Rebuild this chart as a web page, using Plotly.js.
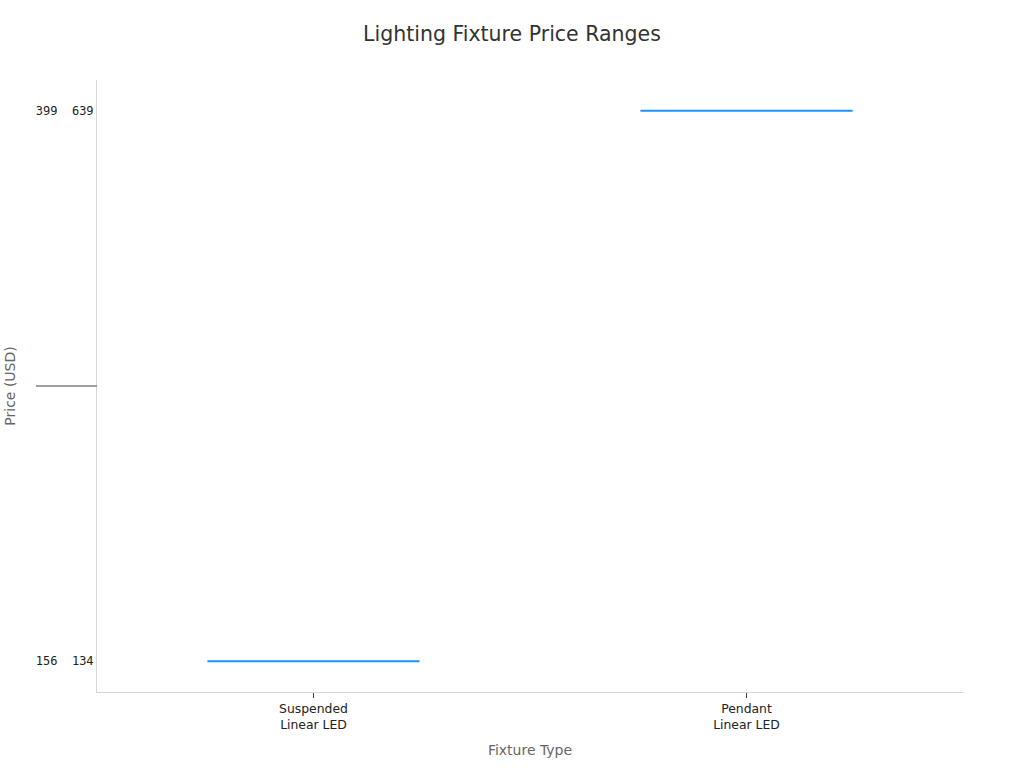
<!DOCTYPE html>
<html>
<head>
<meta charset="utf-8">
<script src="https://cdn.plot.ly/plotly-3.0.1.min.js"></script>
<style>html,body{margin:0;padding:0;background:#fff;}#chart{width:1024px;height:768px;}</style>
</head>
<body>
<div id="chart"></div>
<script>
var categories = ["Suspended<br>Linear LED", "Pendant<br>Linear LED"];
var priceLabels = ["156  134", "399  639"];
var yCategoryOrder = ["156  134", "399  639"];

var trace = {
  type: "box",
  x: categories,
  y: priceLabels,
  width: 0.49,
  line: {color: "#1E90FF", width: 2},
  fillcolor: "rgba(30,144,255,0.3)",
  marker: {color: "#1E90FF"},
  boxpoints: false,
  showlegend: false,
  hoverinfo: "x+y"
};

var layout = {
  width: 1024,
  height: 768,
  paper_bgcolor: "#ffffff",
  plot_bgcolor: "#ffffff",
  font: {family: "DejaVu Sans, sans-serif", color: "#333"},
  title: {text: "Lighting Fixture Price Ranges", x: 0.5, xanchor: "center", y: 0.965, font: {size: 20.5, color: "#333", family: "DejaVu Sans, sans-serif"}},
  margin: {l: 97, r: 61, t: 80, b: 76},
  xaxis: {
    type: "category",
    range: [-0.5, 1.5],
    title: {text: "Fixture Type", font: {size: 14, color: "#666"}, standoff: 14},
    tickfont: {size: 12.4, color: "#222"},
    showline: true, linecolor: "#d6d6d6", linewidth: 1,
    ticks: "outside", ticklen: 5, tickcolor: "#444",
    showgrid: false, zeroline: false
  },
  yaxis: {
    type: "category",
    categoryorder: "array",
    categoryarray: yCategoryOrder,
    title: {text: "Price (USD)", font: {size: 14, color: "#666"}, standoff: 16},
    tickfont: {size: 12, color: "#222", family: "'DejaVu Sans Mono', monospace"},
    showline: true, linecolor: "#d6d6d6", linewidth: 1,
    ticks: "", showgrid: false, zeroline: false,
    range: [-0.056, 1.056]
  },
  shapes: [{
    type: "line", xref: "paper", yref: "y",
    x0: -0.0705, x1: 0, y0: 0.5, y1: 0.5,
    line: {color: "#a0a0a0", width: 2}
  }]
};

Plotly.newPlot("chart", [trace], layout, {displayModeBar: false, staticPlot: true});
</script>
</body>
</html>
